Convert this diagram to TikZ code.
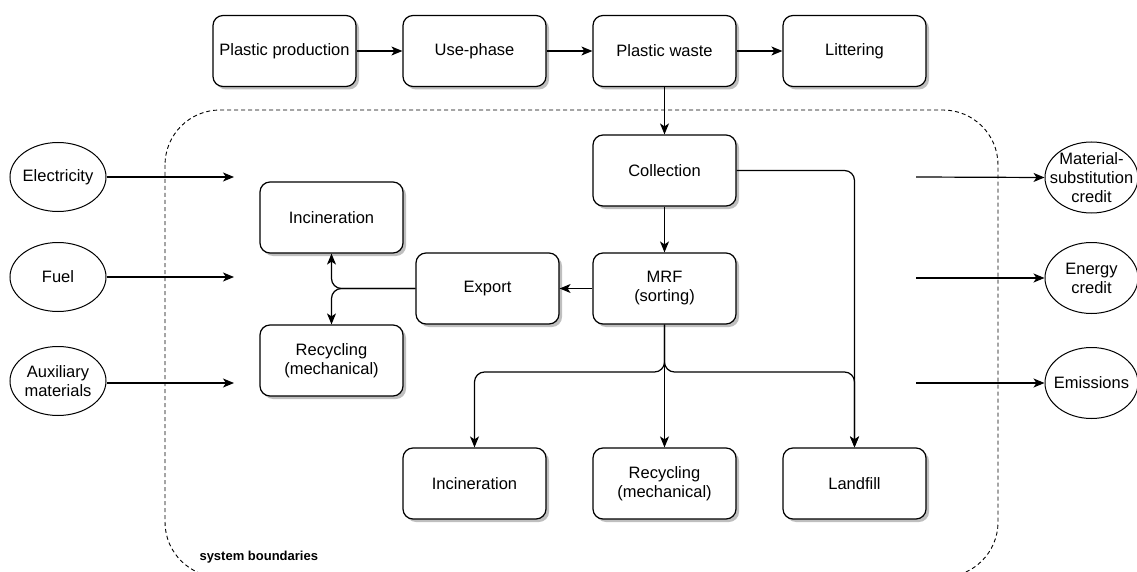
\documentclass[tikz,border=0pt]{standalone}
\usepackage{fontspec}
\setmainfont{Liberation Sans}
\usetikzlibrary{arrows.meta,shadows,shapes.geometric}
\tikzset{
  box/.style={draw, line width=1.2pt, rounded corners=10pt, fill=white,
    minimum width=143pt, minimum height=71pt, inner sep=0pt, align=center,
    drop shadow={shadow xshift=3pt, shadow yshift=-3pt, opacity=0.25, fill=black}},
  ell/.style={draw, line width=1pt, ellipse, fill=white, inner sep=0pt,
    minimum width=96pt, minimum height=69pt},
  arr/.style={line width=1.2pt, -{Stealth[length=11pt,width=9pt,inset=3pt]}, rounded corners=10pt},
  bound/.style={line width=0.9pt, dash pattern=on 4pt off 3pt, rounded corners=55pt}
}
\begin{document}
\begin{tikzpicture}[x=1pt, y=-1pt, font=\fontsize{16.5}{19}\selectfont]
\useasboundingbox (0,0) rectangle (1137,572);
% system boundary
\draw[bound] (165,110) rectangle (998,577);
\node[anchor=west, font=\bfseries\fontsize{13}{15}\selectfont] (sb) at (196,557) {system boundaries};
% top row
\node[box] (pp) at (284.5,51) {Plastic production};
\node[box] (use) at (474.5,51) {Use-phase};
\node[box] (pw) at (664.5,51) {Plastic waste};
\node[box] (lit) at (854.5,51) {Littering};
% middle
\node[box] (col) at (664.5,170.5) {Collection};
\node[box] (mrf) at (664.5,288.5) {MRF\\(sorting)};
\node[box] (exp) at (487.5,288.5) {Export};
\node[box] (inc1) at (331.5,217.5) {Incineration};
\node[box] (rec1) at (331.5,360.5) {Recycling\\(mechanical)};
% bottom row
\node[box] (inc2) at (474.5,483.5) {Incineration};
\node[box] (rec2) at (664.5,483.5) {Recycling\\(mechanical)};
\node[box] (land) at (854.5,483.5) {Landfill};
% ellipses left
\node[ell, label={[align=center]center:Electricity}] (elec) at (58,177) {};
\node[ell, label={[align=center]center:Fuel}] (fuel) at (58,277) {};
\node[ell, label={[align=center]center:Auxiliary\\materials}] (aux) at (58,381) {};
% ellipses right
\node[ell, minimum width=93pt, minimum height=71pt, label={[align=center]center:Material-\\substitution\\credit}] (msc) at (1091.5,177.5) {};
\node[ell, minimum width=93pt, minimum height=71pt, label={[align=center]center:Energy\\credit}] (enc) at (1091.5,278) {};
\node[ell, minimum width=93pt, minimum height=71pt, label={[align=center]center:Emissions}] (emi) at (1091.5,383) {};
% free ends
\coordinate (ein) at (234,177);
\coordinate (fin) at (234,277);
\coordinate (ain) at (234,383);
\coordinate (mout) at (916,177);
\coordinate (eout) at (916,278);
\coordinate (sout) at (916,383);
\coordinate (jexp) at (331.5,288.5);
\coordinate (jmrf) at (664.5,372);
% connectors
\draw[arr] (pp) -- (use);
\draw[arr] (use) -- (pw);
\draw[arr] (pw) -- (lit);
\draw[arr] (pw) -- (col);
\draw[arr] (col) -- (mrf);
\draw[arr] (mrf) -- (exp);
\draw[arr] (exp.west) -- (jexp) -- (inc1.south);
\draw[arr] (exp.west) -- (jexp) -- (rec1.north);
\draw[arr] (mrf.south) -- (jmrf) -| (inc2.north);
\draw[arr] (mrf.south) -- (jmrf) -| (land.north);
\draw[arr] (mrf.south) -- (rec2.north);
\draw[arr] (col.east) -| (land.north);
\draw[arr] (elec) -- (ein);
\draw[arr] (fuel) -- (fin);
\draw[arr] (aux.east |- ain) -- (ain);
\draw[arr] (mout) -- (msc.west);
\draw[arr] (eout) -- (enc.west);
\draw[arr] (sout) -- (emi.west);
\end{tikzpicture}
\end{document}
